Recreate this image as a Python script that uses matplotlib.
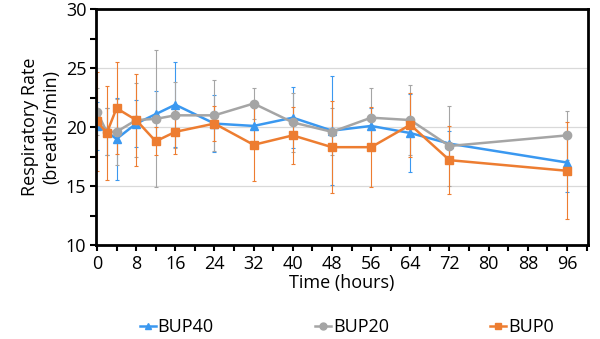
import numpy as np
import matplotlib
matplotlib.use("Agg")
import matplotlib.pyplot as plt
from matplotlib.ticker import MultipleLocator
from matplotlib.lines import Line2D

plt.rcParams['font.family'] = ['Open Sans', 'DejaVu Sans']

hours = [0, 2, 4, 8, 12, 16, 24, 32, 40, 48, 56, 64, 72, 96]

bup40 = [20.1, 19.6, 19.0, 20.3, 21.1, 21.9, 20.3, 20.1, 20.8, 19.7, 20.1, 19.5, 18.6, 17.0]
bup40_err = [2.0, 2.0, 3.5, 2.0, 2.0, 3.6, 2.4, 1.8, 2.6, 4.6, 1.5, 3.3, 1.1, 2.5]

bup20 = [21.3, 19.6, 19.6, 20.6, 20.7, 21.0, 21.0, 22.0, 20.4, 19.6, 20.8, 20.6, 18.4, 19.3]
bup20_err = [2.0, 2.0, 2.8, 3.1, 5.8, 2.8, 3.0, 1.3, 2.5, 2.0, 2.5, 3.0, 3.4, 2.1]

bup0 = [20.5, 19.5, 21.6, 20.6, 18.8, 19.6, 20.3, 18.5, 19.3, 18.3, 18.3, 20.2, 17.2, 16.3]
bup0_err = [4.2, 4.0, 3.9, 3.9, 1.2, 1.9, 1.5, 3.1, 2.4, 3.9, 3.4, 2.7, 2.9, 4.1]

series = [
    ("BUP40", bup40, bup40_err, "#3A98F0", "^"),
    ("BUP20", bup20, bup20_err, "#A5A5A5", "o"),
    ("BUP0", bup0, bup0_err, "#ED7D31", "s"),
]

fig = plt.figure(figsize=(6, 3.39), dpi=100)
ax = fig.add_axes([0.16, 0.277, 0.82, 0.696])

handles = []
for name, vals, err, color, marker in series:
    ax.errorbar(hours, vals, yerr=err, color=color, marker=marker, markersize=6,
                linewidth=1.8, elinewidth=0.8, capsize=1.5, capthick=0.8)
    handles.append(Line2D([], [], color=color, marker=marker, markersize=5,
                          linewidth=1.8, label=name))

ax.set_xlim(-0.2, 100.3)
ax.set_ylim(10, 30)
ax.xaxis.set_major_locator(MultipleLocator(8))
ax.xaxis.set_minor_locator(MultipleLocator(4))
ax.yaxis.set_major_locator(MultipleLocator(5))
ax.yaxis.set_minor_locator(MultipleLocator(2.5))
ax.tick_params(which='both', direction='out', length=4, width=1.5, labelsize=13,
               color='black', pad=3)
ax.yaxis.grid(True, which='major', color='#D9D9D9', linewidth=0.9)
ax.set_axisbelow(True)
for s in ax.spines.values():
    s.set_linewidth(2)

ax.set_xlabel("Time (hours)", fontsize=13, labelpad=1)
ax.set_ylabel("Respiratory Rate\n(breaths/min)", fontsize=13, labelpad=4)

fig.legend(handles=handles, loc='center', bbox_to_anchor=(0.578, 0.035), ncol=3,
           frameon=False, fontsize=13, handlelength=0.9, handletextpad=0.1,
           columnspacing=5.6, borderpad=0)

fig.savefig("out.png", dpi=100)
